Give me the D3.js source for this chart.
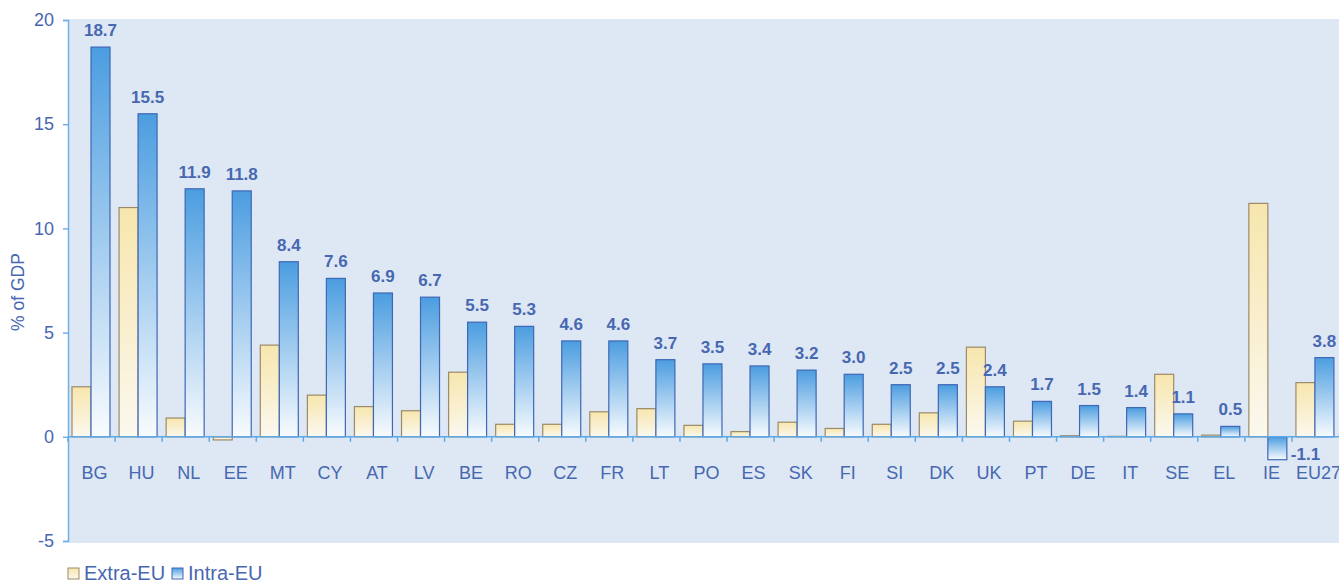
<!DOCTYPE html>
<html>
<head>
<meta charset="utf-8">
<script src="https://cdn.jsdelivr.net/npm/d3@7"></script>
<style>
  body { margin: 0; background: #fff; }
  text { font-family: "Liberation Sans", Arial, sans-serif; }
</style>
</head>
<body>
<script>
// categories and values
var countries = ["BG","HU","NL","EE","MT","CY","AT","LV","BE","RO","CZ","FR","LT","PO","ES","SK","FI","SI","DK","UK","PT","DE","IT","SE","EL","IE","EU27"];
var extraEU = [2.4, 11.0, 0.9, -0.15, 4.4, 2.0, 1.45, 1.25, 3.1, 0.6, 0.6, 1.2, 1.35, 0.55, 0.25, 0.7, 0.4, 0.6, 1.15, 4.3, 0.75, 0.05, 0.02, 3.0, 0.08, 11.2, 2.6];
var intraEU = [18.7, 15.5, 11.9, 11.8, 8.4, 7.6, 6.9, 6.7, 5.5, 5.3, 4.6, 4.6, 3.7, 3.5, 3.4, 3.2, 3.0, 2.5, 2.5, 2.4, 1.7, 1.5, 1.4, 1.1, 0.5, -1.1, 3.8];
var yTicks = [-5, 0, 5, 10, 15, 20];
var seriesNames = ["Extra-EU", "Intra-EU"];

var W = 1339, H = 581;
// note: "top" is taken by window.top, so use m* names
var mLeft = 68, mRight = 1339, mTop = 20, mBottom = 541;
var textCol = "#4767b1";

var svg = d3.select("body").append("svg")
  .attr("width", W).attr("height", H);

var defs = svg.append("defs");
var gIntra = defs.append("linearGradient").attr("id", "gIntra")
  .attr("x1", 0).attr("y1", 0).attr("x2", 0).attr("y2", 1);
gIntra.append("stop").attr("offset", "0%").attr("stop-color", "#4b9de0");
gIntra.append("stop").attr("offset", "100%").attr("stop-color", "#f8fbfe");
var gExtra = defs.append("linearGradient").attr("id", "gExtra")
  .attr("x1", 0).attr("y1", 0).attr("x2", 0).attr("y2", 1);
gExtra.append("stop").attr("offset", "0%").attr("stop-color", "#f7e6ad");
gExtra.append("stop").attr("offset", "100%").attr("stop-color", "#fbf8ef");

var x = d3.scaleBand().domain(countries).range([mLeft, mRight]);
var y = d3.scaleLinear().domain([-5, 20]).range([mBottom, mTop]);

// plain hyphen for negatives, like the original
var fmt = function(v){ return v.toFixed(1); };

// plot background
svg.append("rect")
  .attr("x", mLeft).attr("y", y(20) - 1)
  .attr("width", mRight - mLeft).attr("height", y(-5) - y(20) + 3)
  .attr("fill", "#dde8f4");

// y axis
var yAxis = svg.append("g")
  .attr("transform", "translate(" + mLeft + ",0)")
  .call(d3.axisLeft(y).tickValues(yTicks).tickSize(5).tickPadding(9)
    .tickFormat(function(d){ return String(d); }));
yAxis.select(".domain").attr("stroke", "#6fb0e6").attr("stroke-width", 1.5);
yAxis.selectAll(".tick line").attr("stroke", "#6fb0e6").attr("stroke-width", 1.5);
yAxis.selectAll(".tick text").attr("fill", textCol).attr("font-size", 18)
  .attr("font-family", "Liberation Sans, Arial, sans-serif");

svg.append("text")
  .attr("transform", "translate(24,292) rotate(-90)")
  .attr("text-anchor", "middle")
  .attr("fill", textCol).attr("font-size", 17.5)
  .text("% of GDP");

var bw = 19, off = 4;

// extra-EU bars
svg.selectAll("rect.extra").data(countries).enter().append("rect")
  .attr("class", "extra")
  .attr("x", function(d){ return x(d) + off; })
  .attr("y", function(d, i){ return y(Math.max(0, extraEU[i])); })
  .attr("width", bw)
  .attr("height", function(d, i){ return Math.abs(y(extraEU[i]) - y(0)); })
  .attr("fill", "url(#gExtra)")
  .attr("stroke", "#9c8a68").attr("stroke-width", 1.2);

// intra-EU bars
svg.selectAll("rect.intra").data(countries).enter().append("rect")
  .attr("class", "intra")
  .attr("x", function(d){ return x(d) + off + bw; })
  .attr("y", function(d, i){ return y(Math.max(0, intraEU[i])); })
  .attr("width", bw)
  .attr("height", function(d, i){ return Math.abs(y(intraEU[i]) - y(0)); })
  .attr("fill", "url(#gIntra)")
  .attr("stroke", "#3f67b5").attr("stroke-width", 1.2);

// zero line + category ticks
svg.append("line")
  .attr("x1", mLeft).attr("x2", mRight)
  .attr("y1", y(0)).attr("y2", y(0))
  .attr("stroke", "#5ea9e3").attr("stroke-width", 1.5);
svg.selectAll("line.ctick").data(countries).enter().append("line")
  .attr("class", "ctick")
  .attr("x1", function(d){ return x(d); }).attr("x2", function(d){ return x(d); })
  .attr("y1", y(0)).attr("y2", y(0) + 5)
  .attr("stroke", "#5ea9e3").attr("stroke-width", 1.5);

// category labels
svg.selectAll("text.cat").data(countries).enter().append("text")
  .attr("class", "cat")
  .attr("x", function(d){ return x(d) + x.bandwidth() / 2 + 3; })
  .attr("y", 479)
  .attr("text-anchor", "middle")
  .attr("fill", textCol).attr("font-size", 18)
  .text(function(d){ return d; });

// value labels on intra-EU bars (negative one sits to the right)
svg.selectAll("text.val").data(countries).enter().append("text")
  .attr("class", "val")
  .attr("x", function(d, i){
    return intraEU[i] < 0 ? x(d) + off + bw * 2 + 4 : x(d) + off + bw * 1.5;
  })
  .attr("y", function(d, i){
    return intraEU[i] < 0 ? y(intraEU[i]) : y(intraEU[i]) - 11;
  })
  .attr("text-anchor", function(d, i){ return intraEU[i] < 0 ? "start" : "middle"; })
  .attr("fill", textCol).attr("font-size", 17).attr("font-weight", "bold")
  .text(function(d, i){ return fmt(intraEU[i]); });

// legend
var leg = svg.append("g").attr("transform", "translate(68,567)");
var lg = leg.selectAll("g").data(seriesNames).enter().append("g")
  .attr("transform", function(d, i){ return "translate(" + (i * 104) + ",0)"; });
lg.append("rect")
  .attr("y", 1)
  .attr("width", 11).attr("height", 11)
  .attr("fill", function(d, i){ return i === 0 ? "url(#gExtra)" : "url(#gIntra)"; })
  .attr("stroke", function(d, i){ return i === 0 ? "#9c8a68" : "#3f67b5"; });
lg.append("text")
  .attr("x", 16).attr("y", 12.5)
  .attr("fill", textCol).attr("font-size", 20)
  .text(function(d){ return d; });
</script>
</body>
</html>
